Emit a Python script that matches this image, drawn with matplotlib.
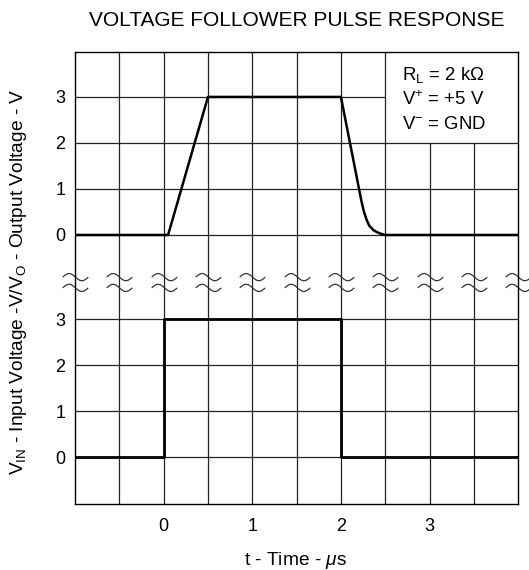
import numpy as np
import matplotlib.pyplot as plt
from matplotlib.path import Path

plt.rcParams['font.family'] = 'Liberation Sans'
plt.rcParams['mathtext.fontset'] = 'custom'
plt.rcParams['mathtext.rm'] = 'Liberation Sans'
plt.rcParams['mathtext.it'] = 'Liberation Sans:italic'
plt.rcParams['mathtext.bf'] = 'Liberation Sans:bold'

W, H = 529, 570

# input pulse (lower trace), t in us, V
T_IN = [-1.0, 0.0, 0.0, 2.0, 2.0, 4.0]
V_IN = [0, 0, 3, 3, 0, 0]

# output of the follower (upper trace)
T_OUT = [-1.0, 0.05, 0.5, 2.0, 2.23, 2.26, 2.29, 2.32, 2.37, 2.43, 2.5, 4.0]
V_OUT = [0, 0, 3, 3, 0.75, 0.5, 0.33, 0.2, 0.1, 0.04, 0, 0]

X_TICKS = [0, 1, 2, 3]
Y_TICKS = [0, 1, 2, 3]
X_GRID = [-0.5, 0.0, 0.5, 1.0, 1.5, 2.0, 2.5, 3.0, 3.5]

OFFSET = 4.83      # upper trace zero sits this far above the lower one
Y_BREAK = 3.81
X_MIN, X_MAX = -1.0, 4.0
Y_MIN, Y_MAX = -1.01, 8.80

fig = plt.figure(figsize=(W / 100, H / 100), dpi=100)
ax = fig.add_axes([75 / W, 1 - 503.7 / H, (518.2 - 75) / W, (503.7 - 52.3) / H])
ax.set_xlim(X_MIN, X_MAX)
ax.set_ylim(Y_MIN, Y_MAX)

# grid, left open behind the conditions box (top right)
BOX_X = 2.5
BOX_Y = OFFSET + 2
grid_top = [BOX_Y if x > BOX_X else Y_MAX for x in X_GRID]
ax.vlines(X_GRID, Y_MIN, grid_top, color='#222222', lw=0.9, zorder=1)
levels = Y_TICKS + [v + OFFSET for v in Y_TICKS]
grid_right = [BOX_X if y > BOX_Y else X_MAX for y in levels]
ax.hlines(levels, X_MIN, grid_right, color='#222222', lw=0.9, zorder=1)

# axis break marks
s = np.linspace(-1, 1, 40)
wave = -0.28 * np.sin(np.pi * s)
verts = np.concatenate([np.c_[s, wave + 0.42], np.c_[s, wave - 0.42]])
codes = ([Path.MOVETO] + [Path.LINETO] * 39) * 2
tilde = Path(verts, codes)
xb = [X_MIN] + X_GRID + [X_MAX]
ax.plot(xb, [Y_BREAK] * len(xb), ls='none', marker=tilde, ms=18.4,
        mfc='none', mec='#333333', mew=0.9, clip_on=False, zorder=3)

ax.plot(T_IN, V_IN, color='black', lw=2.0, zorder=4)
ax.plot(T_OUT, np.array(V_OUT) + OFFSET, color='black', lw=1.8, zorder=4)

ax.set_xticks(X_TICKS)
ax.set_xticklabels([str(v) for v in X_TICKS])
ax.set_yticks(levels)
ax.set_yticklabels([str(v) for v in Y_TICKS] * 2)
ax.tick_params(axis='both', length=0, labelsize=13)
ax.tick_params(axis='x', pad=10)
ax.tick_params(axis='y', pad=7)
for sp in ax.spines.values():
    sp.set_linewidth(1.0)
    sp.set_zorder(5)

fig.text(296.6 / W, 1 - 21 / H, 'VOLTAGE FOLLOWER PULSE RESPONSE',
         ha='center', va='center', fontsize=15.0)
fig.text(295.5 / W, 1 - 565 / H, r't - Time - $\mu$s',
         ha='center', va='baseline', fontsize=13.8)
fig.text(19 / W, 1 - 282 / H,
         r'V$_{\rm IN}$ - Input Voltage -V/V$_{\rm O}$ - Output Voltage - V',
         rotation=90, ha='center', va='center', fontsize=13.8)

notes = [r'R$_{\rm L}$ = 2 kΩ', r'V$^{+}$ = +5 V', r'V$^{-}$ = GND']
for i, note in enumerate(notes):
    fig.text(401.7 / W, 1 - (80 + 24.7 * i) / H, note,
             ha='left', va='baseline', fontsize=13.4)

fig.savefig('out.png', dpi=100)
